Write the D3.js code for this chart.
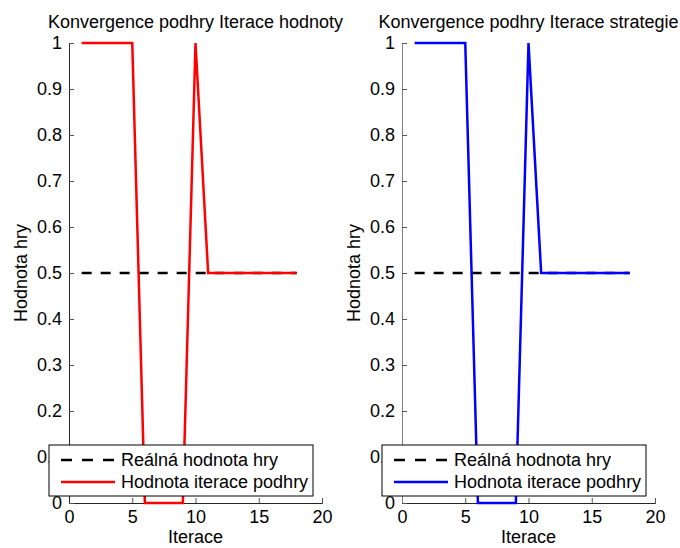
<!DOCTYPE html>
<html><head><meta charset="utf-8">
<script src="https://cdn.jsdelivr.net/npm/d3@7"></script>
<style>body{margin:0;background:#fff}svg{display:block}</style>
</head><body>
<script>
const iterations = [1,2,3,4,5,6,7,8,9,10,11,12,13,14,15,16,17,18];
const valueIteration = [1,1,1,1,1,0,0,0,0,1,0.5,0.5,0.5,0.5,0.5,0.5,0.5,0.5];
const strategyIteration = [1,1,1,1,1,0,0,0,0,1,0.5,0.5,0.5,0.5,0.5,0.5,0.5,0.5];
const realValue = [0.5,0.5,0.5,0.5,0.5,0.5,0.5,0.5,0.5,0.5,0.5,0.5,0.5,0.5,0.5,0.5,0.5,0.5];
const xTicks = [0,5,10,15,20];
const yTicks = [0,0.1,0.2,0.3,0.4,0.5,0.6,0.7,0.8,0.9,1];
const titles = ["Konvergence podhry Iterace hodnoty","Konvergence podhry Iterace strategie"];
const legendLabels = ["Reálná hodnota hry","Hodnota iterace podhry"];
const colors = ["#ff0000","#0000ff"];

const W=680,H=548;
const svg=d3.select("body").append("svg").attr("width",W).attr("height",H)
  .style("font-family","'Liberation Sans', Arial, sans-serif");

const panels=[{x0:69,x1:322,data:valueIteration,yAxisColor:"#262626"},{x0:402,x1:655,data:strategyIteration,yAxisColor:"#808080"}];
const yTop=43,yBot=503;
const FS="18px";
panels.forEach((p,i)=>{
  const x=d3.scaleLinear().domain([0,20]).range([p.x0,p.x1]);
  const y=d3.scaleLinear().domain([0,1]).range([yBot,yTop]);
  const g=svg.append("g");
  const ax=g.append("g").attr("transform",`translate(0,${yBot})`)
    .call(d3.axisBottom(x).tickValues(xTicks).tickSize(-5).tickPadding(7).tickFormat(d3.format("d")));
  const ay=g.append("g").attr("transform",`translate(${p.x0},0)`)
    .call(d3.axisLeft(y).tickValues(yTicks).tickSize(-5).tickPadding(7).tickFormat(d=>d===0?"0":d===1?"1":d3.format(".1f")(d)));
  ax.select(".domain").attr("stroke","#262626");
  ax.selectAll(".tick line").attr("stroke","#555");
  ay.select(".domain").attr("stroke",p.yAxisColor);
  ay.selectAll(".tick line").attr("stroke","#555");
  [ax,ay].forEach(a=>a.selectAll("text").attr("fill","#000").style("font-size",FS));
  const line=d3.line().x((d,k)=>x(iterations[k])).y(d=>y(d));
  g.append("path").datum(realValue).attr("d",line).attr("fill","none")
    .attr("stroke","#000").attr("stroke-width",2.5).attr("stroke-dasharray","10,9");
  g.append("path").datum(p.data).attr("d",line).attr("fill","none")
    .attr("stroke",colors[i]).attr("stroke-width",2.5);
  g.append("text").attr("x",(p.x0+p.x1)/2).attr("y",28).attr("text-anchor","middle")
    .style("font-size",FS).text(titles[i]);
  g.append("text").attr("x",(p.x0+p.x1)/2).attr("y",543).attr("text-anchor","middle")
    .style("font-size",FS).text("Iterace");
  g.append("text").attr("transform",`translate(${p.x0-42},${(yTop+yBot)/2}) rotate(-90)`)
    .attr("text-anchor","middle").style("font-size",FS).text("Hodnota hry");
  const lx=p.x0-20, ly=445, lw=264, lh=51;
  const lg=g.append("g");
  lg.append("rect").attr("x",lx).attr("y",ly).attr("width",lw).attr("height",lh)
    .attr("fill","#fff").attr("stroke","#000").attr("stroke-width",1);
  lg.append("line").attr("x1",lx+12).attr("x2",lx+66).attr("y1",ly+15).attr("y2",ly+15)
    .attr("stroke","#000").attr("stroke-width",2.5).attr("stroke-dasharray","11,10");
  lg.append("line").attr("x1",lx+12).attr("x2",lx+66).attr("y1",ly+37).attr("y2",ly+37)
    .attr("stroke",colors[i]).attr("stroke-width",2.5);
  legendLabels.forEach((t,k)=>{
    lg.append("text").attr("x",lx+72).attr("y",ly+15+k*22).attr("dy","0.35em")
      .style("font-size",FS).text(t);
  });
});
</script>
</body></html>
